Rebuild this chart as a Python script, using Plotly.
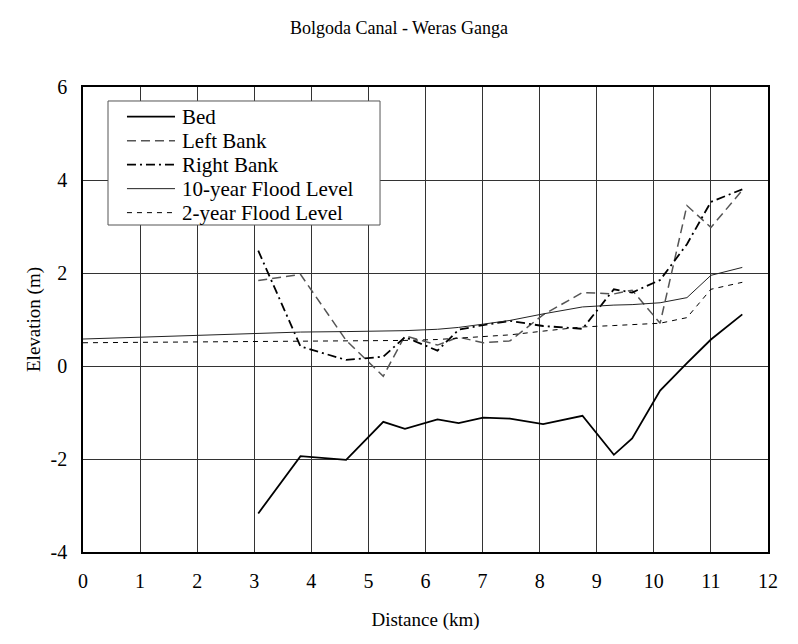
import plotly.graph_objects as go

# Survey stations along the canal (km)
stations = [3.07, 3.81, 4.61, 5.26, 5.64, 6.21, 6.58, 7.01, 7.48, 8.06,
            8.75, 9.30, 9.62, 10.11, 10.58, 11.00, 11.55]
bed = [-3.17, -1.94, -2.02, -1.20, -1.35, -1.15, -1.23, -1.11, -1.13, -1.25,
       -1.07, -1.91, -1.56, -0.53, 0.06, 0.57, 1.11]
left_bank = [1.84, 1.97, 0.55, -0.22, 0.65, 0.45, 0.62, 0.50, 0.54, 1.10,
             1.58, 1.55, 1.63, 0.92, 3.45, 2.98, 3.78]
right_bank = [2.48, 0.42, 0.13, 0.20, 0.62, 0.33, 0.78, 0.88, 0.97, 0.86,
              0.80, 1.65, 1.58, 1.85, 2.62, 3.53, 3.80]

# Flood levels are computed from the canal mouth (0 km)
flood_x = [0.0] + stations
flood_10yr = [0.58, 0.69, 0.73, 0.74, 0.75, 0.76, 0.79, 0.83, 0.90, 0.98, 1.12,
              1.27, 1.31, 1.32, 1.36, 1.47, 1.95, 2.12]
flood_2yr = [0.50, 0.52, 0.53, 0.53, 0.54, 0.55, 0.57, 0.60, 0.63, 0.67, 0.75,
             0.84, 0.87, 0.89, 0.92, 1.04, 1.65, 1.80]

x_ticks = list(range(0, 13))
y_ticks = [-4, -2, 0, 2, 4, 6]
y_tick_labels = ["-4", "-2", "0", "2", "4", "6"]

FONT = "Liberation Serif, Times New Roman, serif"

series = [
    ("Bed", stations, bed, dict(color="black", width=1.8)),
    ("Left Bank", stations, left_bank, dict(color="#555555", width=1.5, dash="9px,5px")),
    ("Right Bank", stations, right_bank, dict(color="black", width=1.8, dash="9px,4px,2px,4px")),
    ("10-year Flood Level", flood_x, flood_10yr, dict(color="#222222", width=1)),
    ("2-year Flood Level", flood_x, flood_2yr, dict(color="black", width=1, dash="5px,5px")),
]

fig = go.Figure()
for name, xs, ys, line in series:
    fig.add_trace(go.Scatter(x=xs, y=ys, mode="lines", name=name, line=line))

# Compact legend panel in the upper-left corner of the plot area
shapes = [dict(type="rect", xref="paper", yref="paper",
               x0=0.0365, x1=0.4336, y0=0.7032, y1=0.9699,
               line=dict(color="#555555", width=1), fillcolor="white", layer="above")]
annotations = []
row_top, row_step = 0.9362, 0.0516
for i, (name, _, _, line) in enumerate(series):
    yy = row_top - i * row_step
    shapes.append(dict(type="line", xref="paper", yref="paper",
                       x0=0.0642, x1=0.1343, y0=yy, y1=yy, line=line, layer="above"))
    annotations.append(dict(text=name, xref="paper", yref="paper", x=0.1431, y=yy,
                            xanchor="left", yanchor="middle", showarrow=False,
                            borderpad=0,
                            font=dict(family=FONT, size=21, color="black")))

axis_common = dict(
    showline=True, linecolor="black", linewidth=1.5, mirror=True,
    showgrid=True, gridcolor="#333333", gridwidth=1,
    zeroline=False, ticks="", tickfont=dict(family=FONT, size=20, color="black"),
)

fig.update_layout(
    width=798, height=644,
    margin=dict(l=83, r=30, t=87, b=92),
    paper_bgcolor="white", plot_bgcolor="white",
    showlegend=False,
    title=dict(text="Bolgoda Canal - Weras Ganga", x=0.5, xanchor="center",
               y=1 - 28 / 644, yanchor="middle",
               font=dict(family=FONT, size=18, color="black")),
    xaxis=dict(range=[0, 12], tickvals=x_ticks, ticklabelstandoff=10,
               title=dict(text="Distance (km)", standoff=22,
                          font=dict(family=FONT, size=19, color="black")),
               **axis_common),
    yaxis=dict(range=[-4, 6], tickvals=y_ticks, ticktext=y_tick_labels,
               ticklabelstandoff=10,
               title=dict(text="Elevation (m)", standoff=5,
                          font=dict(family=FONT, size=19, color="black")),
               **axis_common),
    shapes=shapes,
    annotations=annotations,
)

fig.write_html("out.html")
